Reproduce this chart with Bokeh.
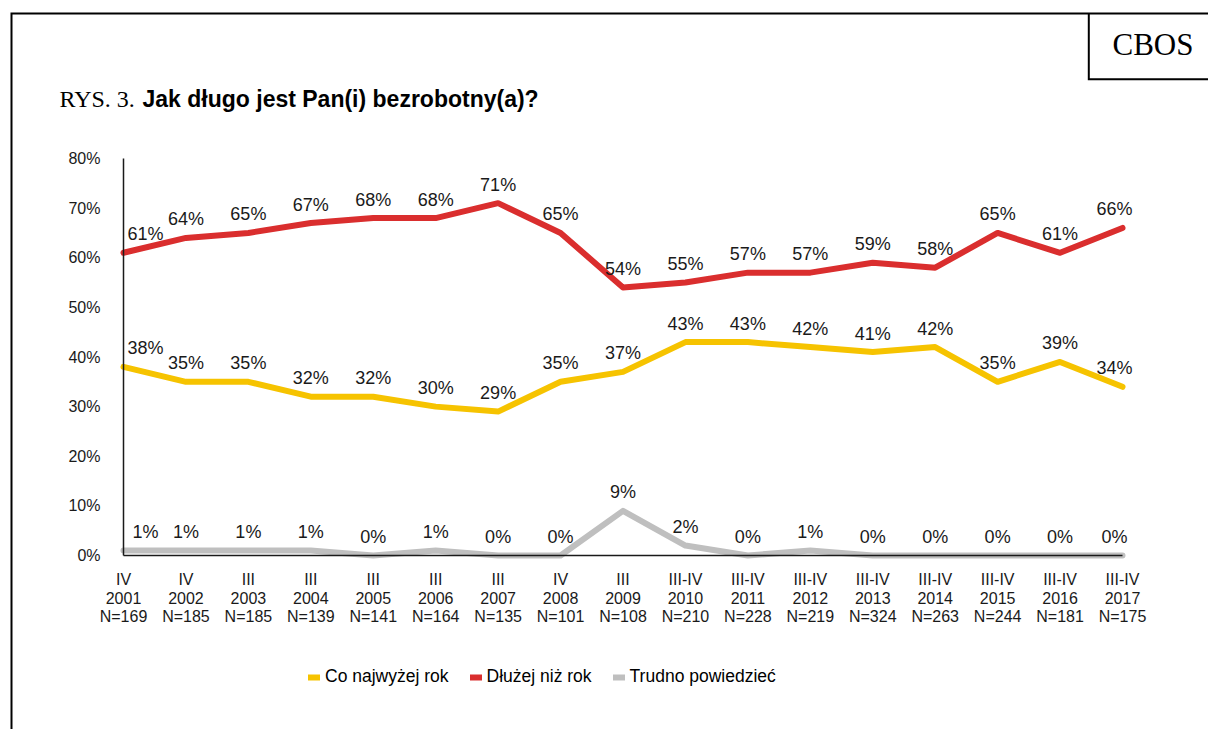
from bokeh.plotting import figure
from bokeh.models import (Range1d, FixedTicker, PrintfTickFormatter, Legend,
                          LegendItem, ColumnDataSource)
from bokeh.core.properties import value
from bokeh.embed import file_html
from bokeh.resources import INLINE

# ---------------- data ----------------
periods = ["IV", "IV", "III", "III", "III", "III", "III", "IV", "III",
           "III-IV", "III-IV", "III-IV", "III-IV", "III-IV", "III-IV", "III-IV", "III-IV"]
years = [2001, 2002, 2003, 2004, 2005, 2006, 2007, 2008, 2009,
         2010, 2011, 2012, 2013, 2014, 2015, 2016, 2017]
sample_n = [169, 185, 185, 139, 141, 164, 135, 101, 108,
            210, 228, 219, 324, 263, 244, 181, 175]
co_najwyzej = [38, 35, 35, 32, 32, 30, 29, 35, 37, 43, 43, 42, 41, 42, 35, 39, 34]
dluzej = [61, 64, 65, 67, 68, 68, 71, 65, 54, 55, 57, 57, 59, 58, 65, 61, 66]
trudno = [1, 1, 1, 1, 0, 1, 0, 0, 9, 2, 0, 1, 0, 0, 0, 0, 0]
series_names = ["Co najwyżej rok", "Dłużej niż rok", "Trudno powiedzieć"]
y_ticks = [0, 10, 20, 30, 40, 50, 60, 70, 80]

# ---------------- layout helpers (page px -> data) ----------------
W, H = 1208, 729
X0, X16 = 123, 1122      # page px of first / last category
Y0, Y80 = 555, 158       # page px of 0% / 80%
SX = (X16 - X0) / 16.0
SY = (Y0 - Y80) / 80.0


def dx(px):
    return (px - X0) / SX


def dy(py):
    return (Y0 - py) / SY


FONT = value("Liberation Sans")
YELLOW, RED, GREY = "#F6C300", "#DA2E2E", "#BFBFBF"
INK = "#1a1a1a"

p = figure(width=W, height=H, output_backend="svg", toolbar_location=None,
           x_range=Range1d(dx(0), dx(W)),
           y_range=Range1d(dy(H), dy(0)),
           min_border=0, min_border_left=0, min_border_right=0,
           min_border_top=0, min_border_bottom=0)
p.outline_line_color = None
p.grid.visible = False
p.background_fill_color = "white"
p.border_fill_color = "white"

idx = list(range(len(years)))

# axes
xa = p.xaxis[0]
xa.fixed_location = 0
xa.bounds = (0, len(years) - 1)
xa.ticker = FixedTicker(ticks=[])
xa.major_tick_in = 0
xa.major_tick_out = 0
xa.minor_tick_in = 0
xa.minor_tick_out = 0
xa.axis_line_color = INK
xa.axis_line_width = 1.5

ya = p.yaxis[0]
ya.fixed_location = 0
ya.bounds = (0, 80)
ya.ticker = FixedTicker(ticks=y_ticks)
ya.formatter = PrintfTickFormatter(format="%d%%")
ya.major_tick_in = 0
ya.major_tick_out = 0
ya.minor_tick_in = 0
ya.minor_tick_out = 0
ya.axis_line_color = INK
ya.axis_line_width = 1.5
ya.major_label_text_font = "Liberation Sans"
ya.major_label_text_font_size = "16px"
ya.major_label_text_color = INK
ya.major_label_standoff = 23

# category labels (three rows under the axis)
for row, py in [(periods, 579), ([str(y) for y in years], 597.5), ([f"N={n}" for n in sample_n], 616)]:
    p.text(x=idx, y=[dy(py)] * len(idx), text=row, text_align="center",
           text_baseline="middle", text_font=FONT, text_font_size="16px",
           text_color=INK)

# series
renderers = []
for vals, col in [(co_najwyzej, YELLOW), (dluzej, RED), (trudno, GREY)]:
    r = p.line(x=idx, y=vals, line_color=col, line_width=6,
               line_cap="round", line_join="round")
    renderers.append(r)

for vals in [co_najwyzej, dluzej, trudno]:
    offs = [0] * len(vals)
    offs[0] = 22
    offs[-1] = -8
    src = ColumnDataSource(dict(x=idx, y=vals, t=[f"{v}%" for v in vals], xo=offs))
    p.text(x="x", y="y", text="t", x_offset="xo", y_offset=-18.5, source=src,
           text_align="center", text_baseline="middle",
           text_font=FONT, text_font_size="18px", text_color=INK)

# frame lines and CBOS box
p.line(x=[dx(11), dx(11), dx(1215)], y=[dy(735), dy(13), dy(13)],
       line_color="black", line_width=2, line_join="miter")
p.line(x=[dx(1088.3), dx(1088.3), dx(1215)], y=[dy(13), dy(78.7), dy(78.7)],
       line_color="black", line_width=2, line_join="miter")
p.text(x=[dx(1152.5)], y=[dy(44)], text=["CBOS"], text_align="center",
       text_baseline="middle", text_font=value("Liberation Serif"),
       text_font_size="31px", text_color="black")

# title
p.text(x=[dx(59)], y=[dy(98)], text=["RYS. 3."], text_align="left",
       text_baseline="middle", text_font=value("Liberation Serif"),
       text_font_size="24px", text_color="black")
p.text(x=[dx(142)], y=[dy(98)], text=["Jak długo jest Pan(i) bezrobotny(a)?"],
       text_align="left", text_baseline="middle", text_font=FONT,
       text_font_style="bold", text_font_size="23px", text_color="black")

# legend
legend = Legend(items=[LegendItem(label=n, renderers=[r]) for n, r in zip(series_names, renderers)],
                orientation="horizontal", location=(308, H - 687),
                padding=0, margin=0, border_line_color=None, background_fill_alpha=0,
                glyph_width=12, glyph_height=20, label_height=20, label_standoff=5,
                spacing=21, label_text_font="Liberation Sans",
                label_text_font_size="17.5px", label_text_color="black")
p.add_layout(legend)

open("out.html", "w").write(file_html(p, INLINE))
